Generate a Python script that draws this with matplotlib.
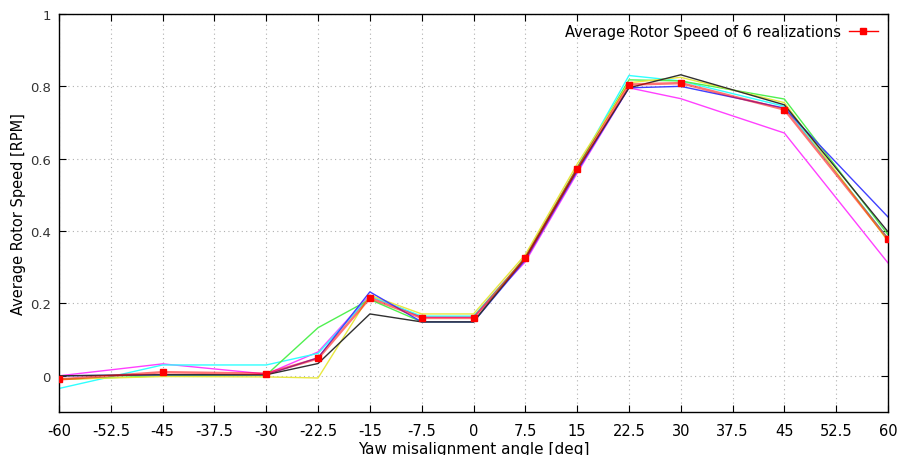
import numpy as np
import matplotlib
matplotlib.use("Agg")
import matplotlib.pyplot as plt
import matplotlib.ticker as ticker

# yaw angles (deg)
yaw = [-60, -45, -30, -22.5, -15, -7.5, 0, 7.5, 15, 22.5, 30, 45, 60]

# single realizations
real_magenta = [0.0, 0.033, 0.005, 0.066, 0.223, 0.162, 0.162, 0.315, 0.56, 0.796, 0.766, 0.671, 0.312]
real_cyan = [-0.035, 0.030, 0.030, 0.062, 0.220, 0.165, 0.165, 0.325, 0.575, 0.830, 0.815, 0.745, 0.380]
real_green = [-0.010, 0.0, 0.002, 0.133, 0.211, 0.149, 0.149, 0.330, 0.575, 0.818, 0.815, 0.765, 0.390]
real_yellow = [-0.010, -0.002, -0.003, -0.006, 0.223, 0.171, 0.171, 0.335, 0.585, 0.810, 0.825, 0.755, 0.372]
real_blue = [0.0, 0.003, 0.003, 0.050, 0.232, 0.149, 0.149, 0.320, 0.565, 0.796, 0.800, 0.740, 0.439]
real_black = [0.0, 0.003, 0.003, 0.034, 0.171, 0.149, 0.149, 0.325, 0.570, 0.796, 0.832, 0.749, 0.398]

# average of the 6 realizations
avg_speed = [-0.010, 0.010, 0.006, 0.048, 0.215, 0.160, 0.160, 0.325, 0.572, 0.805, 0.809, 0.736, 0.378]

xticks = [-60, -52.5, -45, -37.5, -30, -22.5, -15, -7.5, 0, 7.5, 15, 22.5, 30, 37.5, 45, 52.5, 60]
xtick_labels = ["-60", "-52.5", "-45", "-37.5", "-30", "-22.5", "-15", "-7.5", "0",
                "7.5", "15", "22.5", "30", "37.5", "45", "52.5", "60"]
yticks = [0, 0.2, 0.4, 0.6, 0.8, 1]
ytick_labels = ["0", "0.2", "0.4", "0.6", "0.8", "1"]

plt.rcParams['font.family'] = ['DejaVu Sans']

fig = plt.figure(figsize=(9.01, 4.56), dpi=100)
ax = fig.add_axes([59 / 901, 43 / 456, 829 / 901, 398 / 456])

realizations = [
    (real_magenta, "#ff40ff"),
    (real_cyan, "#30ffff"),
    (real_green, "#50f050"),
    (real_yellow, "#e8e840"),
    (real_blue, "#4040ff"),
    (real_black, "#303030"),
]
for vals, col in realizations:
    ax.plot(yaw, vals, color=col, lw=1.0, zorder=2)

ax.plot(yaw, avg_speed, color="red", lw=1.8, alpha=0.55, zorder=3)
ax.plot(yaw, avg_speed, color="red", lw=0, marker="s", markersize=5,
        zorder=4)
# legend handle
ax.plot([], [], color="red", lw=1.0, marker="s", markersize=5,
        label="Average Rotor Speed of 6 realizations")

ax.set_xlim(-60, 60)
ax.set_ylim(-0.1, 1)
ax.set_xticks(xticks)
ax.set_xticklabels(xtick_labels)
ax.set_yticks(yticks)
ax.set_yticklabels(ytick_labels)

ax.grid(True, color="#b0b0b0", linestyle=(0, (1, 3)), lw=0.8)
ax.tick_params(direction="in", top=True, right=True, length=5,
               labelsize=10.5, pad=8)
ax.tick_params(axis="y", labelsize=9.5, labelcolor="#333333", pad=6)
for sp in ax.spines.values():
    sp.set_linewidth(1.0)

ax.set_xlabel("Yaw misalignment angle [deg]", fontsize=11, labelpad=2)
ax.set_ylabel("Average Rotor Speed [RPM]", fontsize=10.5, labelpad=3)

ax.legend(loc="upper right", frameon=False, markerfirst=False, fontsize=10.5,
          handlelength=2.0, handletextpad=0.5, borderaxespad=0.3)

fig.savefig("out.png", dpi=100)
